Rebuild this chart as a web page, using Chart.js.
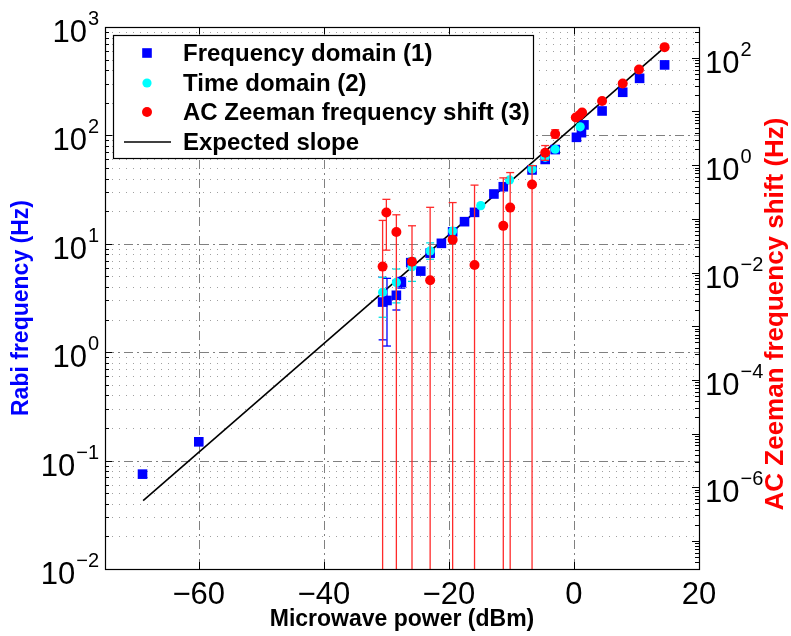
<!DOCTYPE html>
<html>
<head>
<meta charset="utf-8">
<script src="https://cdn.jsdelivr.net/npm/chart.js@4.4.1/dist/chart.umd.min.js"></script>
<style>
html, body { margin: 0; padding: 0; background: #fff; }
</style>
</head>
<body>
<canvas id="chart_1" width="791" height="636"></canvas>
<script>
// data
var freqX  = [-69, -60, -30.6, -29.9, -28.4, -27.6, -26.1, -24.5, -23.0, -21.2, -19.4, -17.5, -15.9, -12.8, -11.3, -6.7, -4.6, -3.0, 0.4, 1.2, 1.6, 4.5, 7.8, 10.5, 14.5];
var freqY  = [0.075, 0.149, 2.9, 3.0, 3.35, 4.4, 6.7, 5.6, 8.2, 10.1, 12.9, 16.0, 19.5, 28.8, 33.6, 48, 60, 74, 96, 106, 125, 168, 250, 336, 447];
var freqLo = [null, null, 1.3, 1.14, 2.45, 3.9, null, null, null, null, null, null, null, null, null, null, null, null, null, null, null, null, null, null, null];
var freqHi = [null, null, 4.9, 4.8, 4.6, 4.9, null, null, null, null, null, null, null, null, null, null, null, null, null, null, null, null, null, null, null];

var timeX  = [-30.6, -28.4, -25.9, -23.0, -19.4, -14.9, -10.3, -6.7, -4.6, -3.0, 1.0];
var timeY  = [3.57, 4.4, 6.15, 8.6, 13.1, 22.5, 38.8, 49, 62.8, 74.5, 120];
var timeLo = [2.1, 2.85, 4.5, 7.2, null, null, null, null, null, null, null];
var timeHi = [4.9, 5.85, 7.4, 10.2, null, null, null, null, null, null, null];

// AC Zeeman shift, right axis units (Hz); a lower bound of 0 runs off the bottom
var zeemanX  = [-30.6, -30.0, -28.4, -25.9, -23.0, -19.4, -15.9, -11.3, -10.2, -6.7, -4.6, -3.0, 0.3, 0.9, 1.3, 4.5, 7.8, 10.4, 14.5];
var zeemanY  = [0.0129, 0.131, 0.057, 0.0159, 0.0072, 0.041, 0.0138, 0.074, 0.162, 0.437, 1.70, 3.81, 7.75, 8.55, 9.6, 15.7, 33.3, 60.4, 158];
var zeemanLo = [0, 0.0261, 0, 0, 0, 0, 0, 0, 0, 0, 1.23, 3.18, null, null, null, null, null, null, null];
var zeemanHi = [0.0935, 0.231, 0.119, 0.0743, 0.164, 0.201, 0.425, 0.58, 0.728, 0.98, 2.32, 4.57, null, null, null, null, null, null, null];

var slopeX = [-68.9, 14.5];
var slopeY = [0.0427, 650];

var xTicks = [-60, -40, -20, 0, 20];
var yTickExp = [-2, -1, 0, 1, 2, 3];
var y2TickExp = [-6, -4, -2, 0, 2];

var legendLabels = ['Frequency domain (1)', 'Time domain (2)', 'AC Zeeman frequency shift (3)', 'Expected slope'];
var xTitle = 'Microwave power (dBm)';
var yTitle = 'Rabi frequency (Hz)';
var y2Title = 'AC Zeeman frequency shift (Hz)';

var FONT = '"Liberation Sans", Arial, Helvetica, sans-serif';

function toPoints(xs, ys) {
  var pts = [];
  for (var i = 0; i < xs.length; i++) pts.push({x: xs[i], y: ys[i]});
  return pts;
}

function minus(s) { return String(s).replace('-', '\u2212'); }

function hline(ctx, x1, x2, y) {
  y = Math.round(y) + 0.5;
  ctx.beginPath(); ctx.moveTo(x1, y); ctx.lineTo(x2, y); ctx.stroke();
}
function vline(ctx, x, y1, y2) {
  x = Math.round(x) + 0.5;
  ctx.beginPath(); ctx.moveTo(x, y1); ctx.lineTo(x, y2); ctx.stroke();
}

// grid like matlab: dashed major, dotted minor
var gridPlugin = {
  id: 'gridPlugin',
  beforeDatasetsDraw: function(chart) {
    var ctx = chart.ctx, a = chart.chartArea;
    var xs = chart.scales.x, ys = chart.scales.y;
    ctx.save();
    ctx.beginPath(); ctx.rect(a.left, a.top, a.right - a.left, a.bottom - a.top); ctx.clip();
    ctx.lineWidth = 1;
    ctx.strokeStyle = '#a0a0a0';
    ctx.setLineDash([1, 6]);
    for (var i = 0; i < yTickExp.length - 1; i++) {
      for (var m = 2; m <= 9; m++) {
        hline(ctx, a.left, a.right, ys.getPixelForValue(m * Math.pow(10, yTickExp[i])));
      }
    }
    ctx.strokeStyle = '#808080';
    ctx.setLineDash([9, 4, 2, 4]);
    yTickExp.forEach(function(e) {
      var y = ys.getPixelForValue(Math.pow(10, e));
      if (y > a.top + 1 && y < a.bottom - 1) hline(ctx, a.left, a.right, y);
    });
    xTicks.forEach(function(v) {
      var x = xs.getPixelForValue(v);
      if (x > a.left + 1 && x < a.right - 1) vline(ctx, x, a.top, a.bottom);
    });
    ctx.restore();
  }
};

// vertical error bars, drawn under each dataset's markers
var errorBarPlugin = {
  id: 'errorBarPlugin',
  beforeDatasetDraw: function(chart, args) {
    var ds = chart.data.datasets[args.index];
    if (!ds.errLo) return;
    var ctx = chart.ctx, a = chart.chartArea;
    var xs = chart.scales.x, ys = chart.scales[ds.yAxisID];
    ctx.save();
    ctx.beginPath(); ctx.rect(a.left, a.top, a.right - a.left, a.bottom - a.top); ctx.clip();
    ctx.strokeStyle = ds.errColor;
    ctx.lineWidth = 1.3;
    for (var i = 0; i < ds.data.length; i++) {
      var lo = ds.errLo[i], hi = ds.errHi[i];
      if (lo === null && hi === null) continue;
      var x = xs.getPixelForValue(ds.data[i].x);
      var yTop = hi !== null ? ys.getPixelForValue(hi) : ys.getPixelForValue(ds.data[i].y);
      var yBot = (lo !== null && lo > 0) ? ys.getPixelForValue(lo) : a.bottom + 2;
      ctx.beginPath(); ctx.moveTo(x, yTop); ctx.lineTo(x, yBot); ctx.stroke();
      if (hi !== null) { ctx.beginPath(); ctx.moveTo(x - 4, yTop); ctx.lineTo(x + 4, yTop); ctx.stroke(); }
      if (lo !== null && lo > 0) { ctx.beginPath(); ctx.moveTo(x - 4, yBot); ctx.lineTo(x + 4, yBot); ctx.stroke(); }
    }
    ctx.restore();
  }
};

function drawPow(ctx, x, y, exp, align) {
  var base = '10', sup = minus(exp);
  ctx.font = '31px ' + FONT;
  var wb = ctx.measureText(base).width;
  ctx.font = '20px ' + FONT;
  var ws = ctx.measureText(sup).width;
  var x0 = align === 'right' ? x - wb - ws - 1 : x;
  ctx.textAlign = 'left';
  ctx.textBaseline = 'alphabetic';
  ctx.font = '31px ' + FONT;
  ctx.fillText(base, x0, y + 15);
  ctx.font = '20px ' + FONT;
  ctx.fillText(sup, x0 + wb + 1, y - 2);
}

// frame, inside ticks, power-of-ten labels, y titles, legend
var framePlugin = {
  id: 'framePlugin',
  afterDraw: function(chart) {
    var ctx = chart.ctx, a = chart.chartArea;
    var xs = chart.scales.x, ys = chart.scales.y, ys2 = chart.scales.y2;
    ctx.save();
    ctx.strokeStyle = '#000';
    ctx.lineWidth = 1.2;
    ctx.setLineDash([]);
    ctx.strokeRect(Math.round(a.left) + 0.5, Math.round(a.top) + 0.5, Math.round(a.right - a.left), Math.round(a.bottom - a.top));

    ctx.lineWidth = 1;
    xTicks.forEach(function(v) {
      var x = Math.round(xs.getPixelForValue(v)) + 0.5;
      ctx.beginPath(); ctx.moveTo(x, a.bottom); ctx.lineTo(x, a.bottom - 7); ctx.stroke();
      ctx.beginPath(); ctx.moveTo(x, a.top); ctx.lineTo(x, a.top + 7); ctx.stroke();
    });
    // left ticks
    for (var e = yTickExp[0]; e <= yTickExp[yTickExp.length - 1]; e++) {
      var y = ys.getPixelForValue(Math.pow(10, e));
      hline(ctx, a.left, a.left + 7, y);
      if (e < yTickExp[yTickExp.length - 1]) {
        for (var m = 2; m <= 9; m++) hline(ctx, a.left, a.left + 4, ys.getPixelForValue(m * Math.pow(10, e)));
      }
    }
    // right ticks, one per decade of the right axis
    for (var k = -8; k <= 2; k++) {
      for (var m2 = 1; m2 <= 9; m2++) {
        var v = m2 * Math.pow(10, k);
        if (v < ys2.min || v > ys2.max) continue;
        hline(ctx, a.right - (m2 === 1 ? 7 : 4), a.right, ys2.getPixelForValue(v));
      }
    }

    ctx.fillStyle = '#000';
    yTickExp.forEach(function(e) {
      drawPow(ctx, a.left - 6, ys.getPixelForValue(Math.pow(10, e)), e, 'right');
    });
    y2TickExp.forEach(function(e) {
      drawPow(ctx, a.right + 6, ys2.getPixelForValue(Math.pow(10, e)), e, 'left');
    });

    ctx.textAlign = 'center';
    ctx.textBaseline = 'middle';
    ctx.save();
    ctx.font = 'bold 23px ' + FONT;
    ctx.translate(22, 308);
    ctx.rotate(-Math.PI / 2);
    ctx.fillStyle = '#0000ff';
    ctx.fillText(yTitle, 0, 0);
    ctx.restore();
    ctx.save();
    ctx.font = 'bold 26px ' + FONT;
    ctx.translate(776, 314);
    ctx.rotate(-Math.PI / 2);
    ctx.fillStyle = '#ff0000';
    ctx.fillText(y2Title, 0, 0);
    ctx.restore();

    // legend box
    var bx = 113.5, by = 35.5, bw = 420, bh = 123;
    ctx.fillStyle = '#fff';
    ctx.fillRect(bx, by, bw, bh);
    ctx.strokeStyle = '#000';
    ctx.lineWidth = 1.2;
    ctx.strokeRect(bx, by, bw, bh);
    var rows = [53, 83, 112, 142];
    var ds = chart.data.datasets;
    for (var r = 0; r < ds.length; r++) {
      var yy = rows[r];
      if (ds[r].showLine) {
        ctx.strokeStyle = ds[r].borderColor;
        ctx.lineWidth = 1.5;
        ctx.beginPath(); ctx.moveTo(124, yy); ctx.lineTo(171, yy); ctx.stroke();
      } else {
        ctx.fillStyle = ds[r].backgroundColor;
        ctx.beginPath();
        if (ds[r].pointStyle === 'rect') {
          var s = ds[r].pointRadius * Math.SQRT1_2;
          ctx.rect(147 - s, yy - s, 2 * s, 2 * s);
        } else {
          ctx.arc(147, yy, ds[r].pointRadius, 0, 2 * Math.PI);
        }
        ctx.fill();
      }
      ctx.fillStyle = '#000';
      ctx.font = 'bold 24px ' + FONT;
      ctx.textAlign = 'left';
      ctx.textBaseline = 'middle';
      ctx.fillText(ds[r].label, 183, yy + 1);
    }
    ctx.restore();
  }
};

var ctx_1 = document.getElementById('chart_1').getContext('2d');
var chart_1 = new Chart(ctx_1, {
  type: 'scatter',
  data: {
    datasets: [{
      label: legendLabels[0],
      data: toPoints(freqX, freqY),
      yAxisID: 'y',
      pointStyle: 'rect',
      pointRadius: 6.8,
      backgroundColor: '#0000ff',
      borderColor: '#0000ff',
      borderWidth: 0,
      errLo: freqLo, errHi: freqHi, errColor: '#0000ff',
      order: 3
    }, {
      label: legendLabels[1],
      data: toPoints(timeX, timeY),
      yAxisID: 'y',
      pointStyle: 'circle',
      pointRadius: 4.6,
      backgroundColor: '#00ffff',
      borderColor: '#00ffff',
      borderWidth: 0,
      errLo: timeLo, errHi: timeHi, errColor: '#00e5e5',
      order: 2
    }, {
      label: legendLabels[2],
      data: toPoints(zeemanX, zeemanY),
      yAxisID: 'y2',
      pointStyle: 'circle',
      pointRadius: 5,
      backgroundColor: '#ff0000',
      borderColor: '#ff0000',
      borderWidth: 0,
      errLo: zeemanLo, errHi: zeemanHi, errColor: '#ff2a2a',
      order: 1
    }, {
      type: 'line',
      label: legendLabels[3],
      data: toPoints(slopeX, slopeY),
      yAxisID: 'y',
      showLine: true,
      pointRadius: 0,
      borderColor: '#000000',
      borderWidth: 1.6,
      fill: false,
      tension: 0,
      order: 4
    }]
  },
  options: {
    responsive: false,
    animation: false,
    layout: { padding: { top: 27, left: 0, right: 0, bottom: 0 } },
    plugins: {
      legend: { display: false },
      tooltip: { enabled: false }
    },
    scales: {
      x: {
        type: 'linear',
        min: -75,
        max: 20,
        afterBuildTicks: function(scale) {
          scale.ticks = xTicks.map(function(v) { return {value: v}; });
        },
        afterFit: function(scale) { scale.height = 67; },
        grid: { display: false, drawTicks: false },
        border: { display: false },
        ticks: {
          padding: 8,
          color: '#000',
          font: { family: FONT, size: 31 },
          maxRotation: 0,
          callback: function(v) { return minus(v); }
        },
        title: {
          display: true,
          text: xTitle,
          color: '#000',
          font: { family: FONT, size: 23, weight: 'bold' },
          padding: { top: 0, bottom: 3 }
        }
      },
      y: {
        type: 'logarithmic',
        position: 'left',
        min: 0.01,
        max: 1000,
        afterBuildTicks: function(scale) {
          scale.ticks = yTickExp.map(function(e) { return {value: Math.pow(10, e)}; });
        },
        afterFit: function(scale) { scale.width = 105; },
        grid: { display: false, drawTicks: false },
        border: { display: false },
        ticks: { display: false }
      },
      y2: {
        type: 'logarithmic',
        position: 'right',
        min: Math.pow(10, -7.463),
        max: Math.pow(10, 2.574),
        afterBuildTicks: function(scale) {
          scale.ticks = y2TickExp.map(function(e) { return {value: Math.pow(10, e)}; });
        },
        afterFit: function(scale) { scale.width = 92; },
        grid: { display: false, drawTicks: false },
        border: { display: false },
        ticks: { display: false }
      }
    }
  },
  plugins: [gridPlugin, errorBarPlugin, framePlugin]
});
</script>
</body>
</html>
